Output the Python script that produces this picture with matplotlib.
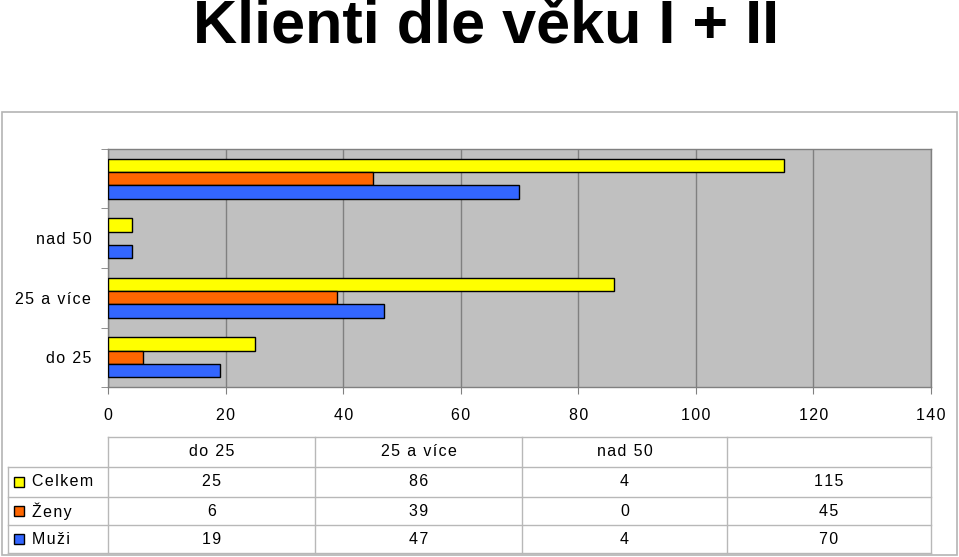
import matplotlib.pyplot as plt
from matplotlib.patches import Rectangle
from matplotlib.lines import Line2D

W, H = 959, 557

categories = ['do 25', '25 a více', 'nad 50', '']
series = ['Celkem', 'Ženy', 'Muži']
celkem = [25, 86, 4, 115]
zeny = [6, 39, 0, 45]
muzi = [19, 47, 4, 70]
colors = ['#FFFF00', '#FF6600', '#3366FF']
x_ticks = [0, 20, 40, 60, 80, 100, 120, 140]

plt.rcParams['font.family'] = ['Liberation Sans', 'DejaVu Sans']
FS = 11.5


def sp(s):
    # the original uses wide letter tracking
    return '\u200a'.join(s)


def fx(px):
    return px / W


def fy(py):
    return 1 - py / H


fig = plt.figure(figsize=(W / 100, H / 100), dpi=100)

# title
fig.text(fx(486), fy(27), 'Klienti dle věku I + II', ha='center', va='center',
         fontsize=44, fontweight='bold')

# outer chart frame
fig.patches.append(Rectangle((fx(2), fy(555)), fx(955), (553 - 110) / H,
                             transform=fig.transFigure, fill=False,
                             edgecolor='#b4b4b4', lw=1.2))

ax = fig.add_axes([fx(108), fy(387), fx(823), (387 - 149) / H])
ax.set_facecolor('#C0C0C0')

bh = 0.224
ypos = list(range(len(categories)))
for vals, off, c in zip([celkem, zeny, muzi], [bh, 0, -bh], colors):
    ax.barh([y + off for y in ypos], vals, height=bh, color=c,
            edgecolor='black', lw=1, zorder=3)

ax.set_xlim(0, 140)
ax.set_ylim(-0.5, len(categories) - 0.5)
ax.set_xticks(x_ticks)
ax.set_xticklabels([sp(str(v)) for v in x_ticks], fontsize=FS)
ax.set_yticks(ypos)
ax.set_yticklabels([sp(c) for c in categories], fontsize=FS)
ax.set_yticks([y - 0.5 for y in ypos] + [len(categories) - 0.5], minor=True)
ax.tick_params(axis='y', which='major', length=0, pad=12)
ax.tick_params(axis='y', which='minor', length=5, color='#808080', direction='out')
ax.tick_params(axis='x', length=5, color='#808080', direction='out', pad=10)
ax.grid(axis='x', color='#808080', lw=1, zorder=1)
ax.set_axisbelow(True)
for s in ax.spines.values():
    s.set_color('#808080')
    s.set_linewidth(1)

# data table below the chart
col_edges = [108, 315, 522, 727, 931]
row_edges = [437, 467, 497, 525, 553]
line_c = '#b8b8b8'


def hline(y, x0, x1):
    fig.add_artist(Line2D([fx(x0), fx(x1)], [fy(y), fy(y)], color=line_c, lw=1))


def vline(x, y0, y1):
    fig.add_artist(Line2D([fx(x), fx(x)], [fy(y0), fy(y1)], color=line_c, lw=1))


hline(row_edges[0], col_edges[0], col_edges[-1])
for y in row_edges[1:]:
    hline(y, 8, col_edges[-1])
for x in col_edges:
    vline(x, row_edges[0], row_edges[-1])
vline(8, row_edges[1], row_edges[-1])

for j, cat in enumerate(categories):
    cx = (col_edges[j] + col_edges[j + 1]) / 2
    fig.text(fx(cx), fy((row_edges[0] + row_edges[1]) / 2 - 1), sp(cat),
             ha='center', va='center', fontsize=FS)

for i, (name, vals, c) in enumerate(zip(series, [celkem, zeny, muzi], colors)):
    cy = (row_edges[i + 1] + row_edges[i + 2]) / 2
    fig.patches.append(Rectangle((fx(14), fy(cy + 5)), fx(10), 10 / H,
                                 transform=fig.transFigure, facecolor=c,
                                 edgecolor='black', lw=1))
    fig.text(fx(32), fy(cy), sp(name), ha='left', va='center', fontsize=FS)
    for j, v in enumerate(vals):
        cx = (col_edges[j] + col_edges[j + 1]) / 2
        fig.text(fx(cx), fy(cy), sp(str(v)), ha='center', va='center', fontsize=FS)

fig.savefig('out.png', dpi=100)
